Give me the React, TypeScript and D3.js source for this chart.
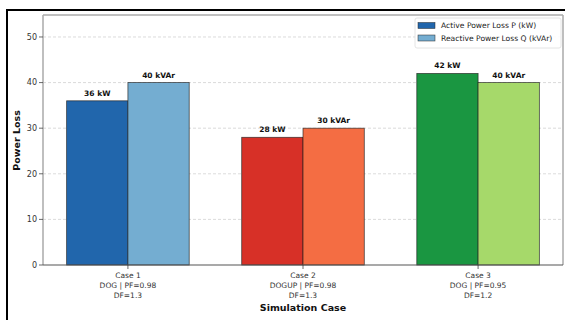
import React from 'react';
import * as d3 from 'd3';

// chart data
const cases = ['Case 1', 'Case 2', 'Case 3'];
const caseDetails = [
  ['DOG | PF=0.98', 'DF=1.3'],
  ['DOGUP | PF=0.98', 'DF=1.3'],
  ['DOG | PF=0.95', 'DF=1.2'],
];
const activeLoss = [36, 28, 42];
const reactiveLoss = [40, 30, 40];
const activeColors = ['#2166ac', '#d73027', '#1a9641'];
const reactiveColors = ['#74add1', '#f46d43', '#a6d96a'];
const yTicks = [0, 10, 20, 30, 40, 50];
const legendLabels = ['Active Power Loss P (kW)', 'Reactive Power Loss Q (kVAr)'];

const App = () => {
  const width = 565;
  const height = 320;
  const plot = { left: 43, right: 563, top: 16, bottom: 265 };
  const barW = 0.35;
  const font = 'DejaVu Sans, sans-serif';

  const xScale = d3.scaleLinear()
    .domain([-0.485, 2.485])
    .range([plot.left, plot.right]);

  const yMax = d3.max([...activeLoss, ...reactiveLoss]) * 1.3;
  const yScale = d3.scaleLinear()
    .domain([0, yMax])
    .range([plot.bottom, plot.top]);

  const bw = xScale(barW) - xScale(0);

  return (
    <svg width={width} height={height} style={{ position: 'absolute', left: 0, top: 0 }} fontFamily={font}>
      <rect x={0} y={0} width={width} height={height} fill='white' />
      {/* outer frame */}
      <rect x={7} y={10} width={700} height={400} fill='none' stroke='black' strokeWidth={2} />

      {/* grid */}
      {yTicks.slice(1).map(t => (
        <line key={t} x1={plot.left} x2={plot.right} y1={yScale(t)} y2={yScale(t)}
          stroke='#cccccc' strokeWidth={0.7} strokeDasharray='3,2' />
      ))}

      {/* bars */}
      {cases.map((c, i) => (
        <g key={c}>
          <rect x={xScale(i - barW)} y={yScale(activeLoss[i])} width={bw}
            height={yScale(0) - yScale(activeLoss[i])} fill={activeColors[i]}
            stroke='#222' strokeOpacity={0.8} strokeWidth={0.8} />
          <rect x={xScale(i)} y={yScale(reactiveLoss[i])} width={bw}
            height={yScale(0) - yScale(reactiveLoss[i])} fill={reactiveColors[i]}
            stroke='#222' strokeOpacity={0.8} strokeWidth={0.8} />
          <text x={xScale(i - barW / 2)} y={yScale(activeLoss[i]) - 5} textAnchor='middle'
            fontSize={7.5} fontWeight='bold' fill='#111'>{`${activeLoss[i]} kW`}</text>
          <text x={xScale(i + barW / 2)} y={yScale(reactiveLoss[i]) - 5} textAnchor='middle'
            fontSize={7.5} fontWeight='bold' fill='#111'>{`${reactiveLoss[i]} kVAr`}</text>
        </g>
      ))}

      {/* spines */}
      <line x1={plot.left} x2={plot.right} y1={plot.top - 1} y2={plot.top - 1} stroke='#aaa' strokeWidth={1.5} />
      <line x1={plot.right} x2={plot.right} y1={plot.top - 1} y2={plot.bottom} stroke='#aaa' strokeWidth={1.5} />
      <line x1={plot.left} x2={plot.left} y1={plot.top - 1} y2={plot.bottom} stroke='#aaa' strokeWidth={1.5} />
      <line x1={plot.left} x2={plot.right} y1={plot.bottom} y2={plot.bottom} stroke='#555' strokeWidth={1.2} />

      {/* y axis */}
      {yTicks.map(t => (
        <g key={t}>
          <line x1={plot.left - 4} x2={plot.left} y1={yScale(t)} y2={yScale(t)} stroke='#444' strokeWidth={0.8} />
          <text x={plot.left - 6} y={yScale(t)} dy='0.35em' textAnchor='end' fontSize={8} fill='#333'>{t}</text>
        </g>
      ))}
      <text transform={`translate(20, ${(plot.top + plot.bottom) / 2}) rotate(-90)`} textAnchor='middle'
        fontSize={9.5} fontWeight='bold' fill='#111'>Power Loss</text>

      {/* x axis */}
      {cases.map((c, i) => (
        <g key={c}>
          <line x1={xScale(i)} x2={xScale(i)} y1={plot.bottom} y2={plot.bottom + 4} stroke='#444' strokeWidth={0.8} />
          {[c, ...caseDetails[i]].map((l, j) => (
            <text key={j} x={xScale(i)} y={275 + j * 10} dy='0.35em' textAnchor='middle'
              fontSize={7.5} fill='#333'>{l}</text>
          ))}
        </g>
      ))}
      <text x={(plot.left + plot.right) / 2} y={308} dy='0.35em' textAnchor='middle'
        fontSize={9.5} fontWeight='bold' fill='#111'>Simulation Case</text>

      {/* legend */}
      <g>
        <rect x={415} y={18} width={146} height={30} rx={2} fill='white' fillOpacity={0.9}
          stroke='#ddd' strokeWidth={0.8} />
        {legendLabels.map((l, j) => (
          <g key={l} transform={`translate(418, ${25.5 + j * 12.5})`}>
            <rect x={0} y={-3} width={17} height={6} fill={j === 0 ? activeColors[0] : reactiveColors[0]}
              stroke='#222' strokeOpacity={0.8} strokeWidth={0.6} />
            <text x={23} y={0} dy='0.35em' fontSize={7.6} fill='#222'>{l}</text>
          </g>
        ))}
      </g>
    </svg>
  );
};

export default App;
